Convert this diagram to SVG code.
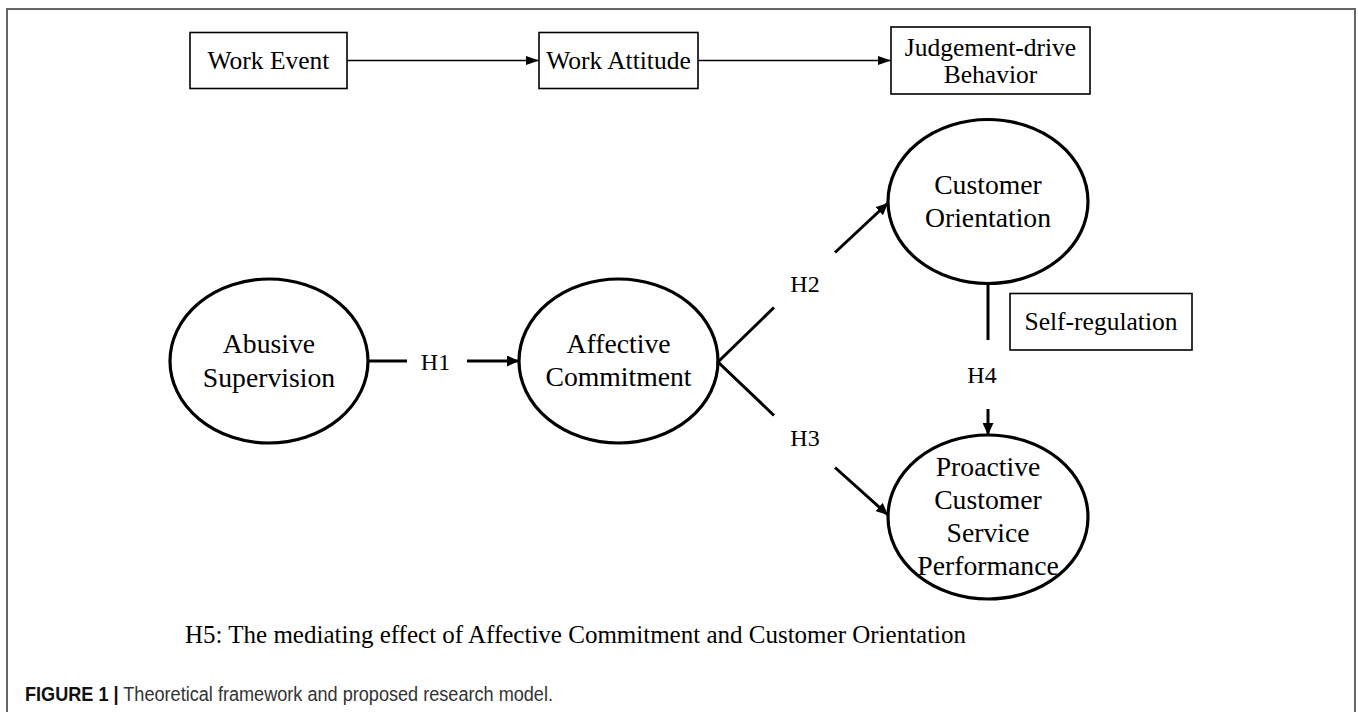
<svg xmlns="http://www.w3.org/2000/svg" width="1358" height="712" viewBox="0 0 1358 712">
<style>
.box{fill:#fff;stroke:#000;stroke-width:1.6}
.ell{fill:#fff;stroke:#000;stroke-width:3.2}
.t{font-family:"Liberation Serif","Times New Roman",serif;fill:#000;text-anchor:middle}
.tb{font-size:25.5px}
.te{font-size:27.7px}
.th{font-size:24px}
.thin{stroke:#000;stroke-width:1.5;fill:none}
.thick{stroke:#000;stroke-width:3;fill:none}
</style>
<defs>
<marker id="ah" viewBox="0 0 13 9" refX="13" refY="4.5" markerWidth="13" markerHeight="9" markerUnits="userSpaceOnUse" orient="auto"><path d="M0,0 L13,4.5 L0,9 z" fill="#000"/></marker>
<marker id="ah2" viewBox="0 0 12 11" refX="12" refY="5.5" markerWidth="12" markerHeight="11" markerUnits="userSpaceOnUse" orient="auto"><path d="M0,0 L12,5.5 L0,11 z" fill="#000"/></marker>
</defs>
<rect x="7" y="9" width="1348" height="720" fill="none" stroke="#666" stroke-width="2"/>

<g id="work-event"><rect class="box" x="190" y="32.5" width="157" height="56"/><text class="t tb" x="268.5" y="69">Work Event</text></g>
<g id="work-attitude"><rect class="box" x="539" y="32.5" width="159" height="56"/><text class="t tb" x="618.5" y="69">Work Attitude</text></g>
<g id="judgement-behavior"><rect class="box" x="891" y="27" width="199" height="67"/><text class="t tb" x="990.5" y="56">Judgement-drive</text><text class="t tb" x="990.5" y="83">Behavior</text></g>

<g id="abusive-supervision"><ellipse class="ell" cx="269" cy="361" rx="99" ry="82"/><text class="t te" x="269" y="353">Abusive</text><text class="t te" x="269" y="387">Supervision</text></g>
<g id="affective-commitment"><ellipse class="ell" cx="618.5" cy="361" rx="99.5" ry="82"/><text class="t te" x="618.5" y="353">Affective</text><text class="t te" x="618.5" y="386">Commitment</text></g>
<g id="customer-orientation"><ellipse class="ell" cx="988" cy="201.5" rx="100" ry="82"/><text class="t te" x="988" y="193.5">Customer</text><text class="t te" x="988" y="226.5">Orientation</text></g>
<g id="proactive-performance"><ellipse class="ell" cx="988" cy="517" rx="100" ry="82"/><text class="t te" x="988" y="475.5">Proactive</text><text class="t te" x="988" y="508.5">Customer</text><text class="t te" x="988" y="541.5">Service</text><text class="t te" x="988" y="575">Performance</text></g>
<g id="self-regulation"><rect class="box" x="1010" y="293.5" width="182" height="56.5"/><text class="t tb" x="1101" y="330">Self-regulation</text></g>

<g id="connectors">
<line class="thin" x1="347" y1="60.5" x2="539" y2="60.5" marker-end="url(#ah)"/>
<line class="thin" x1="698" y1="60.5" x2="891" y2="60.5" marker-end="url(#ah)"/>
<line class="thick" x1="368" y1="361" x2="407" y2="361"/>
<line class="thick" x1="467" y1="361" x2="519" y2="361" marker-end="url(#ah2)"/>
<text class="t th" x="435.5" y="369.5">H1</text>
<polyline class="thick" points="774,307.5 718,362 774,415.5"/>
<line class="thick" x1="835" y1="252.5" x2="888" y2="203" marker-end="url(#ah2)"/>
<text class="t th" x="805" y="292">H2</text>
<line class="thick" x1="835" y1="467.5" x2="888" y2="515" marker-end="url(#ah2)"/>
<text class="t th" x="805" y="445.5">H3</text>
<line class="thick" x1="988" y1="283.5" x2="988" y2="340"/>
<text class="t th" x="982" y="382.5">H4</text>
<line class="thick" x1="988" y1="409" x2="988" y2="435" marker-end="url(#ah2)"/>
</g>

<text x="185" y="643" style="font-family:'Liberation Serif','Times New Roman',serif;font-size:25px" fill="#000">H5: The mediating effect of Affective Commitment and Customer Orientation</text>
<text x="25" y="701" textLength="528" lengthAdjust="spacingAndGlyphs" style="font-family:'Liberation Sans',Arial,sans-serif;font-size:19.5px" fill="#333"><tspan font-weight="bold" fill="#111">FIGURE 1 |</tspan> Theoretical framework and proposed research model.</text>
</svg>
